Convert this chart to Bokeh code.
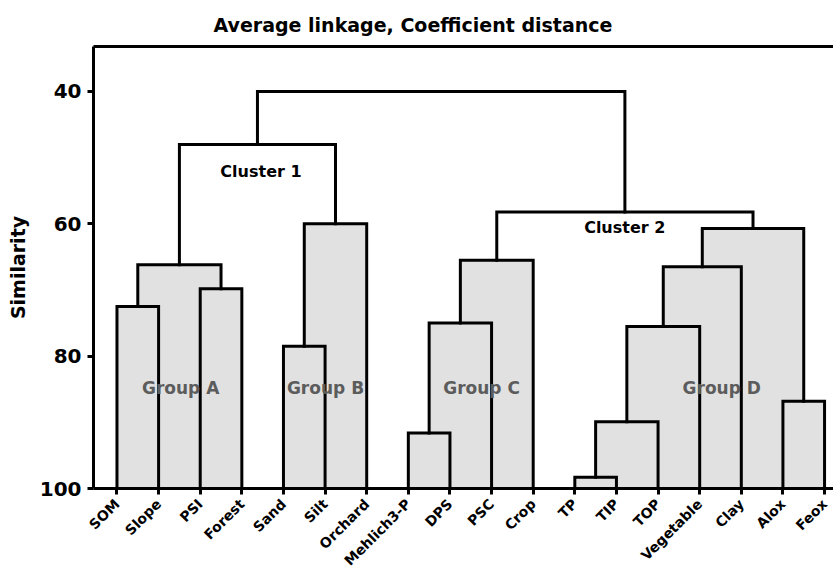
from math import pi
from bokeh.plotting import figure
from bokeh.models import Range1d, FixedTicker, LinearAxis, ColumnDataSource, Title
from bokeh.core.properties import value
from bokeh.embed import file_html
from bokeh.resources import INLINE

# ---------------- data ----------------
title_text = "Average linkage, Coefficient distance"

leaves = ["SOM", "Slope", "PSI", "Forest", "Sand", "Silt", "Orchard",
          "Mehlich3-P", "DPS", "PSC", "Crop", "TP", "TIP", "TOP",
          "Vegetable", "Clay", "Alox", "Feox"]

# merge k joins merge_left[k] and merge_right[k] ("mN" = result of merge N)
merge_left = ["SOM", "PSI", "m0", "Sand", "m3", "m2", "Mehlich3-P", "m6", "m7",
              "TP", "m9", "m10", "m11", "Alox", "m12", "m8", "m5"]
merge_right = ["Slope", "Forest", "m1", "Silt", "Orchard", "m4", "DPS", "PSC", "Crop",
               "TIP", "TOP", "Vegetable", "Clay", "Feox", "m13", "m14", "m15"]
merge_sim = [72.5, 69.8, 66.2, 78.5, 60.0, 48.0, 91.6, 75.0, 65.5,
             98.3, 89.9, 75.5, 66.5, 86.8, 60.7, 58.2, 40.0]

group_names = ["Group A", "Group B", "Group C", "Group D"]
group_members = [["SOM", "Slope", "PSI", "Forest"],
                 ["Sand", "Silt", "Orchard"],
                 ["Mehlich3-P", "DPS", "PSC", "Crop"],
                 ["TP", "TIP", "TOP", "Vegetable", "Clay", "Alox", "Feox"]]

cluster_names = ["Cluster 1", "Cluster 2"]

y_ticks = [40, 60, 80, 100]

# ---------------- dendrogram geometry ----------------
LEAF_SIM = 100.0
node_x, node_y, node_set = {}, {}, {}
for i, name in enumerate(leaves):
    node_x[name] = float(i)
    node_y[name] = LEAF_SIM
    node_set[name] = {name}

fill = dict(left=[], right=[], top=[], bottom=[])
lines_x, lines_y = [], []
for k, (a, b, h) in enumerate(zip(merge_left, merge_right, merge_sim)):
    xa, xb = node_x[a], node_x[b]
    lines_x.append([xa, xa, xb, xb])
    lines_y.append([node_y[a], h, h, node_y[b]])
    members = node_set[a] | node_set[b]
    if any(members <= set(g) for g in group_members):
        fill["left"].append(xa)
        fill["right"].append(xb)
        fill["top"].append(h)
        fill["bottom"].append(LEAF_SIM)
    key = "m%d" % k
    node_x[key] = (xa + xb) / 2.0
    node_y[key] = h
    node_set[key] = members

# ---------------- figure ----------------
FONT = "DejaVu Sans"
p = figure(width=833, height=577, output_backend="svg", toolbar_location=None,
           x_range=Range1d(-0.564, 17.215), y_range=Range1d(100, 33.2),
           min_border_left=93, min_border_right=0, min_border_top=46,
           min_border_bottom=88, outline_line_color=None,
           background_fill_color="white", border_fill_color="white")
p.xgrid.visible = False
p.ygrid.visible = False

p.title = Title(text=title_text, align="left",
                text_font=FONT, text_font_size="19px", text_font_style="bold",
                text_color="black", offset=120, standoff=22)

p.quad(left="left", right="right", top="top", bottom="bottom",
       source=ColumnDataSource(fill), fill_color="#e1e1e1", line_color=None)
p.multi_line(xs=lines_x, ys=lines_y, line_color="black", line_width=3,
             line_join="miter", line_cap="square")

# group labels
grp_x = [1.53, 5.01, 8.76, 14.53]
grp_y = [84.8, 84.8, 84.8, 84.8]
p.text(x=grp_x, y=grp_y, text=group_names, text_align="center",
       text_baseline="middle", text_font=value(FONT), text_font_size="17px",
       text_font_style="bold", text_color="#5c5c5c")

cl_x = [3.46, 12.2]
cl_y = [52.1, 60.5]
p.text(x=cl_x, y=cl_y, text=cluster_names, text_align="center",
       text_baseline="middle", text_font=value(FONT), text_font_size="16px",
       text_font_style="bold", text_color="black")

# axes
xa = p.xaxis[0]
xa.ticker = FixedTicker(ticks=list(range(len(leaves))))
xa.major_label_overrides = {i: n for i, n in enumerate(leaves)}
xa.major_label_orientation = pi / 4
xa.major_label_text_font = FONT
xa.major_label_text_font_size = "14px"
xa.major_label_text_font_style = "bold"
xa.major_label_text_color = "black"
xa.axis_line_width = 3
xa.major_tick_line_width = 3
xa.major_tick_in = 0
xa.major_tick_out = 6
xa.minor_tick_line_color = None
xa.major_label_standoff = 7

ya = p.yaxis[0]
ya.ticker = FixedTicker(ticks=y_ticks)
ya.axis_label = "Similarity"
ya.axis_label_text_font = FONT
ya.axis_label_text_font_size = "19px"
ya.axis_label_text_font_style = "bold"
ya.axis_label_text_color = "black"
ya.axis_label_standoff = 8
ya.major_label_text_font = FONT
ya.major_label_text_font_size = "20px"
ya.major_label_text_font_style = "bold"
ya.major_label_text_color = "black"
ya.axis_line_width = 3
ya.major_tick_line_width = 3
ya.major_tick_in = 0
ya.major_tick_out = 6
ya.minor_tick_line_color = None
ya.major_label_standoff = 6

top_axis = LinearAxis(ticker=FixedTicker(ticks=[]), axis_line_width=3,
                      major_tick_line_color=None, minor_tick_line_color=None,
                      major_tick_in=0, major_tick_out=0, minor_tick_in=0,
                      minor_tick_out=0, major_label_standoff=0,
                      major_label_text_font_size="0px")
p.add_layout(top_axis, "above")

open("out.html", "w").write(file_html(p, INLINE))
